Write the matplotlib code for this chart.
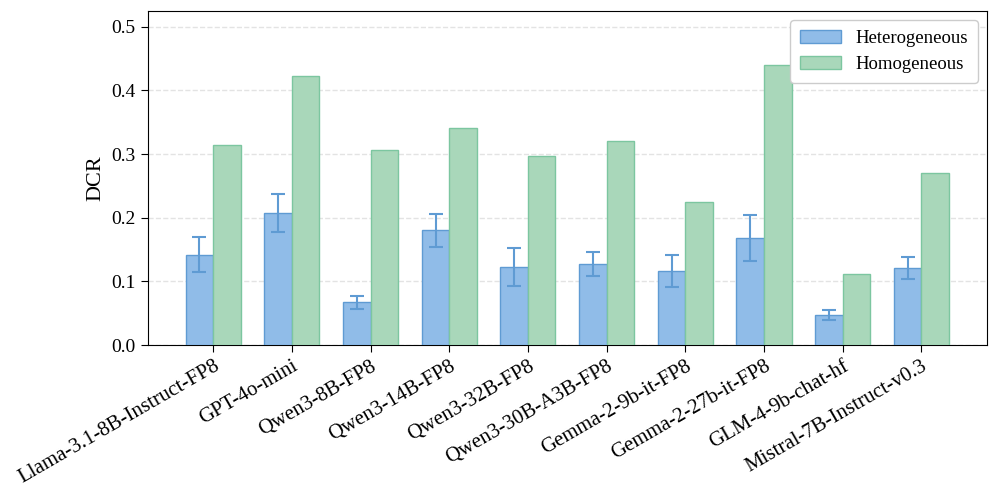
import matplotlib
matplotlib.use("Agg")
import matplotlib.pyplot as plt
import numpy as np

models = ["Llama-3.1-8B-Instruct-FP8", "GPT-4o-mini", "Qwen3-8B-FP8", "Qwen3-14B-FP8",
          "Qwen3-32B-FP8", "Qwen3-30B-A3B-FP8", "Gemma-2-9b-it-FP8", "Gemma-2-27b-it-FP8",
          "GLM-4-9b-chat-hf", "Mistral-7B-Instruct-v0.3"]
hetero = [0.142, 0.208, 0.067, 0.180, 0.122, 0.127, 0.116, 0.168, 0.047, 0.121]
hetero_err = [0.027, 0.030, 0.010, 0.026, 0.030, 0.019, 0.025, 0.036, 0.008, 0.018]
homo = [0.315, 0.422, 0.306, 0.341, 0.297, 0.320, 0.225, 0.440, 0.112, 0.270]

plt.rcParams['font.family'] = ['Liberation Serif', 'DejaVu Serif']

fig, ax = plt.subplots(figsize=(9.97, 4.95), dpi=100)
x = np.arange(len(models))
w = 0.35

ax.bar(x - w / 2, hetero, w, yerr=hetero_err, capsize=5,
       color='#90bce8', edgecolor='#5f9bd3', linewidth=1.0, label='Heterogeneous',
       error_kw=dict(ecolor='#5f9bd3', elinewidth=1.5, capthick=1.5), zorder=3)
ax.bar(x + w / 2, homo, w, color='#a9d7ba', edgecolor='#7cc6a0', linewidth=1.0,
       label='Homogeneous', zorder=3)

ax.set_ylim(0, 0.525)
ax.set_yticks([0.0, 0.1, 0.2, 0.3, 0.4, 0.5])
ax.set_ylabel('DCR', fontsize=16)
ax.set_xticks(x)
ax.set_xticklabels(models, rotation=30, ha='right', fontsize=15, rotation_mode='anchor')
ax.tick_params(axis='y', labelsize=14)
ax.tick_params(axis='both', length=5)
ax.yaxis.grid(True, linestyle='--', color='#e3e3e3', linewidth=1.0, zorder=0)
ax.legend(loc='upper right', fontsize=13.5, framealpha=1.0, edgecolor='#cccccc',
          handlelength=2.2, borderpad=0.5)

plt.subplots_adjust(left=0.148, right=0.99, top=0.978, bottom=0.303)
plt.savefig('out.png', dpi=100)
plt.close()
